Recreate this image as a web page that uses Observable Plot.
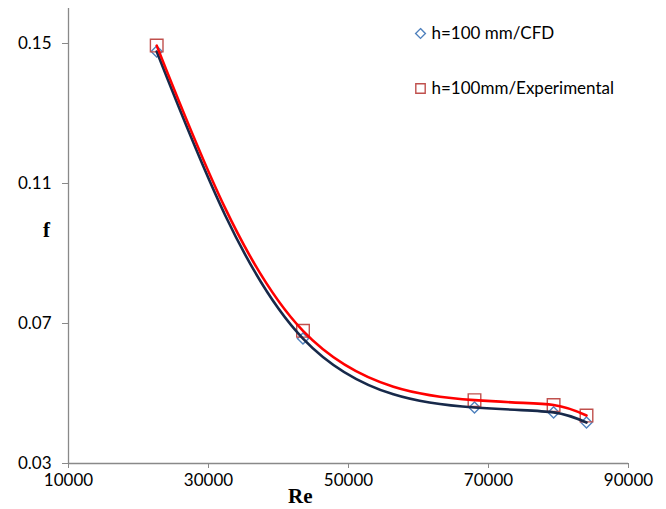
<!DOCTYPE html>
<html><head><meta charset="utf-8">
<script src="https://cdn.jsdelivr.net/npm/d3@7"></script>
<script src="https://cdn.jsdelivr.net/npm/@observablehq/plot@0.6"></script>
<style>body{margin:0;background:#fff}</style>
</head><body><div id="chart"></div>
<script>
const re = [22600, 43500, 68000, 79300, 84000];
const fCFD = [0.1477, 0.0657, 0.0460, 0.0446, 0.0417];
const fExp = [0.1494, 0.0679, 0.0481, 0.0467, 0.0437];
const xTicks = [10000, 30000, 50000, 70000, 90000];
const yTicks = [0.03, 0.07, 0.11, 0.15];
const seriesNames = ["h=100 mm/CFD", "h=100mm/Experimental"];
const xLabel = "Re";
const yLabel = "f";

const cfd = re.map((x, i) => ({Re: x, f: fCFD[i]}));
const exp = re.map((x, i) => ({Re: x, f: fExp[i]}));

const axisGray = "#898989";
const navy = "#17294A";
const red = "#FF0000";
const blueMk = "#4F81BD";
const redMk = "#C0504D";

const chart = Plot.plot({
  width: 666, height: 509,
  marginLeft: 68, marginRight: 38, marginTop: 8, marginBottom: 46,
  style: {fontFamily: "Lato", fontSize: "17px", color: "#000", background: "#fff"},
  x: {domain: [10000, 90000]},
  y: {domain: [0.03, 0.16]},
  marks: [
    Plot.axisX({ticks: xTicks, tickFormat: d => String(d), tickSize: 5, tickPadding: 5, stroke: axisGray, fill: "#000", label: null}),
    Plot.axisY({ticks: yTicks, tickFormat: d => d.toFixed(2), tickSize: 6, tickPadding: 11, stroke: axisGray, fill: "#000", label: null}),
    Plot.ruleX([10000], {stroke: axisGray, strokeWidth: 1.3}),
    Plot.ruleY([0.03], {stroke: axisGray, strokeWidth: 1.3}),
    Plot.dot(cfd, {x: "Re", y: "f", symbol: "diamond2", r: 5.0, stroke: blueMk, strokeWidth: 1.4, fill: "none"}),
    Plot.dot(exp, {x: "Re", y: "f", symbol: "square", r: 7.1, stroke: redMk, strokeWidth: 1.4, fill: "none"}),
    Plot.line(cfd, {x: "Re", y: "f", curve: "natural", stroke: navy, strokeWidth: 2.6}),
    Plot.line(exp, {x: "Re", y: "f", curve: "natural", stroke: red, strokeWidth: 2.6}),
    // legend
    Plot.dot([seriesNames[0]], {frameAnchor: "top-left", dx: 352, dy: 25, symbol: "diamond2", r: 4.4, stroke: blueMk, strokeWidth: 1.4, fill: "none"}),
    Plot.dot([seriesNames[1]], {frameAnchor: "top-left", dx: 352, dy: 80, symbol: "square", r: 5.3, stroke: redMk, strokeWidth: 1.4, fill: "none"}),
    Plot.text([seriesNames[0]], {text: d => d, frameAnchor: "top-left", dx: 363, dy: 25, textAnchor: "start", lineAnchor: "middle", fontSize: 17, fill: "#000"}),
    Plot.text([seriesNames[1]], {text: d => d, frameAnchor: "top-left", dx: 363, dy: 80, textAnchor: "start", lineAnchor: "middle", fontSize: 17, fill: "#000"}),
    // axis titles
    Plot.text([yLabel], {text: d => d, frameAnchor: "top-left", dx: -25.5, dy: 222, lineAnchor: "middle", fontFamily: "Liberation Serif", fontWeight: "bold", fontSize: 21, fill: "#000"}),
    Plot.text([xLabel], {text: d => d, frameAnchor: "top-left", dx: 219.5, dy: 488, lineAnchor: "middle", fontFamily: "Liberation Serif", fontWeight: "bold", fontSize: 21, fill: "#000"})
  ]
});
document.getElementById("chart").appendChild(chart);
</script>
</body></html>
